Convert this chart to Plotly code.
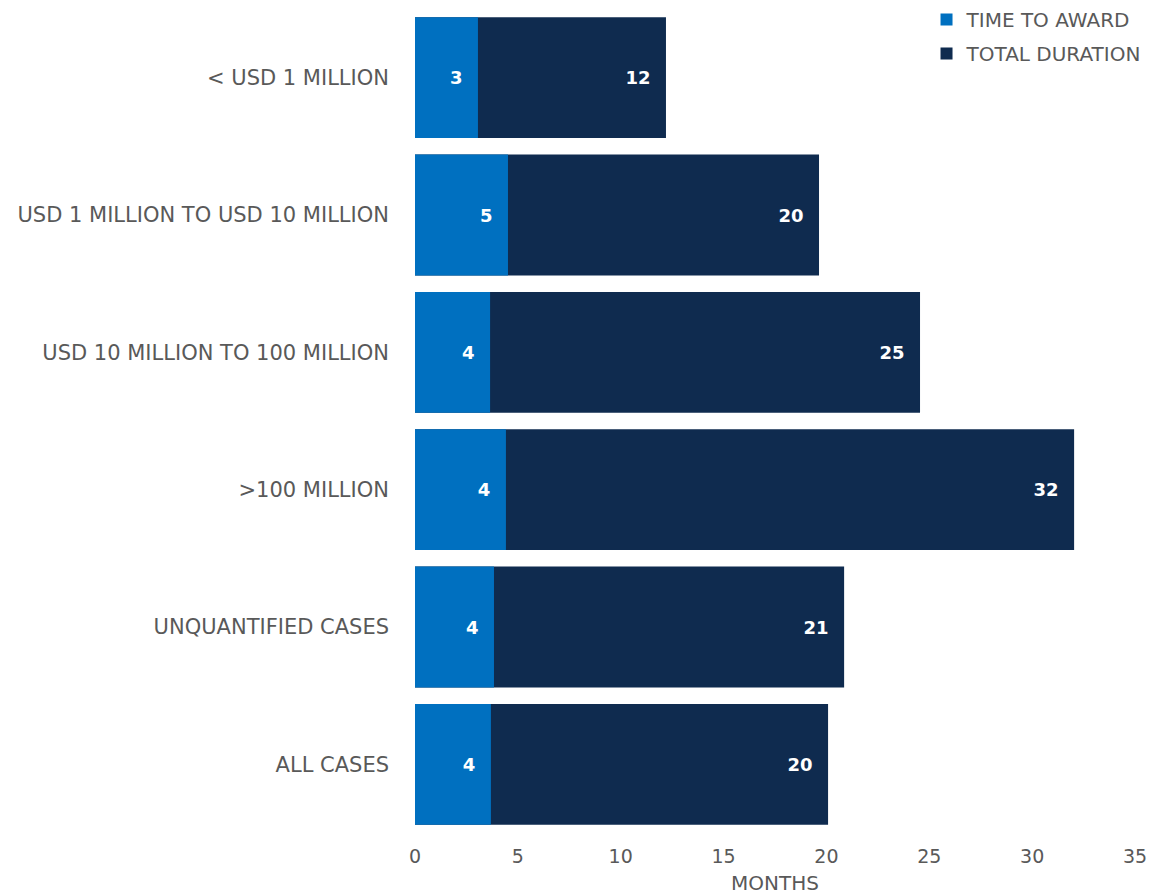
import plotly.graph_objects as go

categories = [
    "< USD 1 MILLION",
    "USD 1 MILLION TO USD 10 MILLION",
    "USD 10 MILLION TO 100 MILLION",
    ">100 MILLION",
    "UNQUANTIFIED CASES",
    "ALL CASES",
]
time_to_award = [3.06, 4.52, 3.65, 4.42, 3.84, 3.69]
total_duration = [12.2, 19.64, 24.55, 32.04, 20.86, 20.08]
x_ticks = [0, 5, 10, 15, 20, 25, 30, 35]

LIGHT = "#0070C0"
DARK = "#0F2B4F"
GRAY = "#595959"
FONT = "DejaVu Sans"
PAD = "\u00a0\u00a0"

fig = go.Figure()
fig.add_trace(go.Bar(
    y=categories, x=total_duration, orientation="h", name="TOTAL DURATION",
    marker=dict(color=DARK, line=dict(width=0)),
    texttemplate="%{x:.0f}" + PAD, textposition="inside", insidetextanchor="end",
    textangle=0, constraintext="none",
    insidetextfont=dict(family=FONT, size=18, color="white", weight="bold"),
    legendrank=2, legendgroup="b",
))
fig.add_trace(go.Bar(
    y=categories, x=time_to_award, orientation="h", name="TIME TO AWARD",
    marker=dict(color=LIGHT, line=dict(width=0)),
    texttemplate="%{x:.0f}" + PAD, textposition="inside", insidetextanchor="end",
    textangle=0, constraintext="none",
    insidetextfont=dict(family=FONT, size=18, color="white", weight="bold"),
    legendrank=1, legendgroup="a",
))

fig.update_layout(
    width=1155, height=895,
    barmode="overlay", bargap=0.12,
    paper_bgcolor="white", plot_bgcolor="white",
    margin=dict(l=415, r=20, t=9, b=62, autoexpand=False),
    font=dict(family=FONT, size=19, color=GRAY),
    showlegend=True,
    legend=dict(x=1.016, xanchor="right", y=1.008, yref="container", yanchor="top",
                bgcolor="rgba(0,0,0,0)", font=dict(size=20, color=GRAY),
                itemsizing="constant", tracegroupgap=5, itemwidth=30),
    xaxis=dict(range=[0, 35], tickvals=x_ticks, showgrid=False, zeroline=False,
               showline=False, ticks="", ticklabelstandoff=10,
               tickfont=dict(size=19, color=GRAY),
               title=dict(text="MONTHS", font=dict(size=20, color=GRAY), standoff=10)),
    yaxis=dict(autorange="reversed", showgrid=False, zeroline=False, showline=False,
               ticks="", ticklabelstandoff=25, tickfont=dict(size=21, color=GRAY)),
)

fig.write_html("out.html")
